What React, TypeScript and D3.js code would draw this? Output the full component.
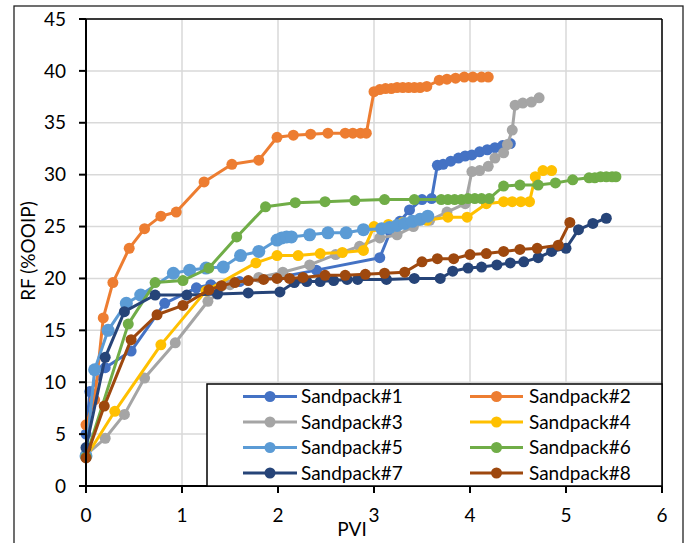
import React from "react";
import * as d3 from "d3";

type Pt = [number, number];

const seriesNames = ["Sandpack#1", "Sandpack#2", "Sandpack#3", "Sandpack#4", "Sandpack#5", "Sandpack#6", "Sandpack#7", "Sandpack#8"];
const seriesColors = ["#4472C4", "#ED7D31", "#A5A5A5", "#FFC000", "#5B9BD5", "#70AD47", "#264478", "#9E480E"];

const sandpack1: Pt[] = [[0, 5.0], [0.04, 9.1], [0.2, 11.4], [0.47, 13.0], [0.82, 17.6], [1.15, 19.1], [1.3, 19.4], [1.6, 19.7], [2.0, 20.1], [2.4, 20.8], [3.06, 22.0], [3.17, 24.5], [3.27, 25.5], [3.37, 26.6], [3.5, 27.6], [3.6, 27.7], [3.66, 30.9], [3.72, 31.0], [3.8, 31.3], [3.88, 31.6], [3.95, 31.8], [4.02, 31.9], [4.1, 32.2], [4.18, 32.4], [4.26, 32.6], [4.34, 32.8], [4.42, 33.0]];
const sandpack2: Pt[] = [[0, 5.9], [0.09, 8.3], [0.18, 16.2], [0.28, 19.6], [0.45, 22.9], [0.61, 24.8], [0.78, 26.0], [0.94, 26.4], [1.23, 29.3], [1.52, 31.0], [1.8, 31.4], [1.99, 33.6], [2.16, 33.8], [2.34, 33.9], [2.52, 34.0], [2.7, 34.0], [2.78, 34.0], [2.86, 34.0], [2.92, 34.0], [3.0, 38.0], [3.06, 38.2], [3.12, 38.3], [3.18, 38.3], [3.24, 38.4], [3.3, 38.4], [3.36, 38.4], [3.42, 38.4], [3.48, 38.4], [3.55, 38.5], [3.68, 39.1], [3.76, 39.2], [3.85, 39.3], [3.94, 39.4], [4.03, 39.4], [4.12, 39.4], [4.19, 39.4]];
const sandpack3: Pt[] = [[0, 3.0], [0.2, 4.6], [0.4, 6.9], [0.61, 10.4], [0.93, 13.8], [1.27, 17.8], [1.5, 19.4], [1.8, 20.1], [2.05, 20.6], [2.33, 21.3], [2.6, 22.3], [2.85, 23.1], [3.06, 23.9], [3.24, 24.2], [3.41, 25.0], [3.58, 25.6], [3.76, 26.4], [3.95, 27.2], [4.02, 30.3], [4.1, 30.4], [4.19, 30.8], [4.26, 31.6], [4.35, 32.1], [4.39, 32.9], [4.44, 34.3], [4.47, 36.7], [4.55, 36.9], [4.64, 37.0], [4.72, 37.4]];
const sandpack4: Pt[] = [[0, 2.8], [0.3, 7.2], [0.78, 13.6], [1.25, 18.8], [1.77, 21.5], [1.99, 22.2], [2.21, 22.2], [2.44, 22.4], [2.67, 22.5], [2.89, 22.7], [3.0, 25.0], [3.15, 25.2], [3.3, 25.4], [3.55, 25.6], [3.77, 25.9], [3.97, 25.9], [4.17, 27.2], [4.35, 27.4], [4.44, 27.4], [4.53, 27.4], [4.62, 27.4], [4.68, 29.8], [4.76, 30.4], [4.85, 30.4]];
const sandpack5: Pt[] = [[0, 2.9], [0.09, 11.2], [0.23, 15.0], [0.42, 17.6], [0.57, 18.4], [0.91, 20.5], [1.08, 20.8], [1.25, 21.0], [1.43, 21.1], [1.61, 22.2], [1.8, 22.6], [1.99, 23.7], [2.04, 23.9], [2.09, 24.0], [2.14, 24.0], [2.33, 24.2], [2.52, 24.4], [2.71, 24.4], [2.89, 24.7], [3.08, 24.8], [3.16, 24.9], [3.24, 25.1], [3.32, 25.3], [3.4, 25.5], [3.48, 25.7], [3.56, 26.0]];
const sandpack6: Pt[] = [[0, 2.8], [0.44, 15.6], [0.72, 19.6], [1.01, 19.8], [1.28, 21.0], [1.57, 24.0], [1.87, 26.9], [2.18, 27.3], [2.49, 27.4], [2.8, 27.5], [3.11, 27.6], [3.42, 27.6], [3.7, 27.6], [3.77, 27.6], [3.84, 27.6], [3.91, 27.6], [3.98, 27.7], [4.05, 27.7], [4.12, 27.7], [4.2, 27.7], [4.35, 28.9], [4.52, 29.0], [4.71, 29.0], [4.89, 29.2], [5.07, 29.5], [5.24, 29.7], [5.3, 29.7], [5.36, 29.8], [5.42, 29.8], [5.48, 29.8], [5.52, 29.8]];
const sandpack7: Pt[] = [[0, 3.7], [0.2, 12.4], [0.4, 16.8], [0.72, 18.4], [1.05, 18.4], [1.37, 18.5], [1.69, 18.6], [2.02, 18.7], [2.17, 19.6], [2.3, 19.7], [2.44, 19.7], [2.58, 19.8], [2.72, 19.9], [2.83, 19.9], [3.13, 19.9], [3.42, 20.0], [3.69, 20.0], [3.82, 20.7], [3.98, 21.0], [4.12, 21.1], [4.28, 21.3], [4.42, 21.5], [4.56, 21.6], [4.71, 22.0], [4.85, 22.6], [5.0, 22.9], [5.13, 24.7], [5.28, 25.3], [5.42, 25.8]];
const sandpack8: Pt[] = [[0, 2.7], [0.19, 7.7], [0.47, 14.1], [0.74, 16.5], [1.01, 17.4], [1.28, 18.9], [1.41, 19.3], [1.55, 19.6], [1.69, 19.8], [1.85, 19.9], [1.99, 20.0], [2.12, 20.0], [2.26, 20.1], [2.49, 20.3], [2.7, 20.3], [2.91, 20.4], [3.11, 20.5], [3.32, 20.6], [3.5, 21.6], [3.66, 21.9], [3.83, 21.9], [4.0, 22.3], [4.17, 22.4], [4.35, 22.6], [4.52, 22.8], [4.7, 22.9], [4.92, 23.2], [5.04, 25.4]];

const allSeries: Pt[][] = [sandpack1, sandpack2, sandpack3, sandpack4, sandpack5, sandpack6, sandpack7, sandpack8];
const markerRadius = [5.5, 5.5, 5.5, 5.5, 6.5, 5.5, 5.5, 5.5];

const xTicks = [0, 1, 2, 3, 4, 5, 6];
const yTicks = [0, 5, 10, 15, 20, 25, 30, 35, 40, 45];
const xTitle = "PVI";
const yTitle = "RF (%OOIP)";

const FONT = "Lato, 'Open Sans', sans-serif";

export default function App() {
  const W = 686, H = 543;
  const left = 86, right = 662, top = 19, bottom = 486;
  const x = d3.scaleLinear().domain([0, 6]).range([left, right]);
  const y = d3.scaleLinear().domain([0, 45]).range([bottom, top]);
  const line = d3.line<Pt>().x(d => x(d[0])).y(d => y(d[1]));

  const legX = 207, legY = 384, legW = right - 207, legH = bottom - 384;
  const rowYs = [396.5, 422, 447.5, 473];
  const colLine = [[243, 297], [470, 523]];
  const colText = [301, 529];

  return (
    <svg width={W} height={H} style={{ position: "absolute", left: 0, top: 0, background: "#fff" }} fontFamily={FONT}>
      <rect x={0} y={0} width={W} height={H} fill="#fff" />
      <rect x={14} y={6} width={669} height={600} fill="none" stroke="#222" strokeWidth={1.3} />
      {xTicks.map(t => (
        <line key={"gx" + t} x1={x(t)} x2={x(t)} y1={top} y2={bottom} stroke="#d9d9d9" strokeWidth={1.5} />
      ))}
      {yTicks.map(t => (
        <line key={"gy" + t} x1={left} x2={right} y1={y(t)} y2={y(t)} stroke="#d9d9d9" strokeWidth={1.5} />
      ))}
      <line x1={left} x2={right} y1={top} y2={top} stroke="#000" strokeWidth={1.5} />
      <line x1={right} x2={right} y1={top} y2={bottom} stroke="#000" strokeWidth={1.5} />
      {allSeries.map((s, i) => (
        <g key={"s" + i}>
          <path d={line(s) || ""} fill="none" stroke={seriesColors[i]} strokeWidth={3} strokeLinejoin="round" />
          {s.map((p, j) => (
            <circle key={j} cx={x(p[0])} cy={y(p[1])} r={markerRadius[i]} fill={seriesColors[i]} />
          ))}
        </g>
      ))}
      <line x1={left} x2={left} y1={top} y2={bottom} stroke="#000" strokeWidth={2} />
      <line x1={left} x2={right} y1={bottom} y2={bottom} stroke="#000" strokeWidth={2} />
      {yTicks.map(t => (
        <g key={"ty" + t}>
          <line x1={left - 7} x2={left} y1={y(t)} y2={y(t)} stroke="#000" strokeWidth={2} />
          <text x={66} y={y(t)} dy="0.35em" textAnchor="end" fontSize={19} fill="#000">{t}</text>
        </g>
      ))}
      {xTicks.map(t => (
        <g key={"tx" + t}>
          <line x1={x(t)} x2={x(t)} y1={bottom} y2={bottom + 7} stroke="#000" strokeWidth={2} />
          <text x={x(t)} y={522} textAnchor="middle" fontSize={19} fill="#000">{t}</text>
        </g>
      ))}
      <text x={352} y={536} textAnchor="middle" fontSize={19} fill="#000">{xTitle}</text>
      <text transform={`translate(35,251) rotate(-90)`} textAnchor="middle" fontSize={19} fill="#000">{yTitle}</text>
      <rect x={legX} y={legY} width={legW} height={legH} fill="#fff" stroke="#000" strokeWidth={1.5} />
      {seriesNames.map((n, i) => {
        const col = i % 2;
        const row = Math.floor(i / 2);
        const ly = rowYs[row];
        const [l1, l2] = colLine[col];
        return (
          <g key={"l" + i}>
            <line x1={l1} x2={l2} y1={ly} y2={ly} stroke={seriesColors[i]} strokeWidth={3} />
            <circle cx={(l1 + l2) / 2} cy={ly} r={5.5} fill={seriesColors[i]} />
            <text x={colText[col]} y={ly} dy="0.36em" fontSize={19} fill="#000">{n}</text>
          </g>
        );
      })}
    </svg>
  );
}
